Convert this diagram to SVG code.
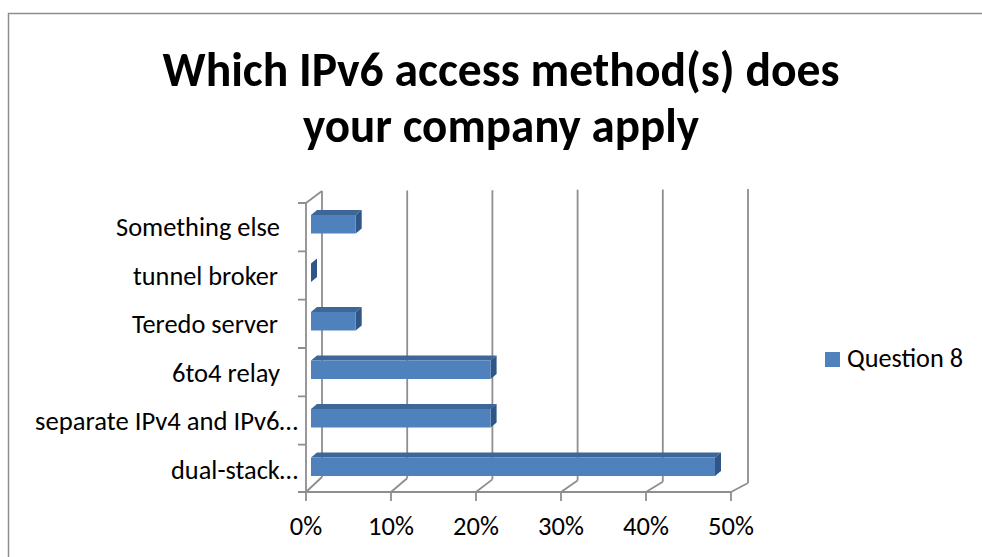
<svg xmlns="http://www.w3.org/2000/svg" width="982" height="557" viewBox="0 0 982 557">
<style>
.t{font-family:Carlito,Lato,"Liberation Sans",sans-serif;fill:#000}
.title{font-size:49px;font-weight:bold;text-anchor:middle}
.lbl{font-size:26.5px;text-anchor:end}
.ax{font-size:26.5px;text-anchor:middle}
.grid{stroke:#8E8E8E;stroke-width:1.8;fill:none}
.front{fill:#4F81BD}
.top{fill:#3D6699}
.side{fill:#2F5687}
</style>
<rect x="0" y="0" width="982" height="557" fill="#fff"/>
<rect id="frame" x="8.5" y="13.5" width="1000" height="600" fill="#fff" stroke="#8E8E8E" stroke-width="1.5"/>
<g id="title">
<text class="t title" x="501" y="86" textLength="677" lengthAdjust="spacingAndGlyphs">Which IPv6 access method(s) does</text>
<text class="t title" x="501" y="142" textLength="396" lengthAdjust="spacingAndGlyphs">your company apply</text>
</g>
<g id="axes">
<path class="grid" d="M322 191V477 M407.2 190.6V478.2 M492.4 190.2V479.4 M577.6 189.8V480.6 M662.8 189.4V481.8 M748 189V483"/>
<path class="grid" d="M306 203L322 191 M306 203V492 M306 492H731 M322 477L306 492 M407.2 478.2L391 492 M492.4 479.4L476 492 M577.6 480.6L561 492 M662.8 481.8L646 492 M748 483L731 492"/>
<path class="grid" d="M306 492V501 M391 492V501 M476 492V501 M561 492V501 M646 492V501 M731 492V501"/>
<path class="grid" d="M298 203H306 M298 251.3H306 M298 299.7H306 M298 348H306 M298 396.3H306 M298 444.7H306 M298 492H306"/>
</g>
<g id="bars">
<g id="bar-something-else">
<polygon class="top" points="311,215 355.7,215 361.7,210 317,210"/>
<polygon class="side" points="355.7,215 361.7,210 361.7,228.5 355.7,233.5"/>
<rect class="front" x="311" y="215" width="44.7" height="18.5"/>
</g>
<g id="bar-tunnel-broker">
<polygon class="side" points="311,263.5 317,258.5 317,277 311,282"/>
</g>
<g id="bar-teredo">
<polygon class="top" points="311,312 355.7,312 361.7,307 317,307"/>
<polygon class="side" points="355.7,312 361.7,307 361.7,325.5 355.7,330.5"/>
<rect class="front" x="311" y="312" width="44.7" height="18.5"/>
</g>
<g id="bar-6to4">
<polygon class="top" points="311,360.5 490.6,360.5 496.6,355.5 317,355.5"/>
<polygon class="side" points="490.6,360.5 496.6,355.5 496.6,374 490.6,379"/>
<rect class="front" x="311" y="360.5" width="179.6" height="18.5"/>
</g>
<g id="bar-separate">
<polygon class="top" points="311,409 490.6,409 496.6,404 317,404"/>
<polygon class="side" points="490.6,409 496.6,404 496.6,422.5 490.6,427.5"/>
<rect class="front" x="311" y="409" width="179.6" height="18.5"/>
</g>
<g id="bar-dual-stack">
<polygon class="top" points="311,457.5 715,457.5 721,452.5 317,452.5"/>
<polygon class="side" points="715,457.5 721,452.5 721,471 715,476"/>
<rect class="front" x="311" y="457.5" width="404" height="18.5"/>
</g>
</g>
<g id="category-labels">
<text class="t lbl" x="280" y="236" textLength="164" lengthAdjust="spacingAndGlyphs">Something else</text>
<text class="t lbl" x="278" y="285" textLength="145" lengthAdjust="spacingAndGlyphs">tunnel broker</text>
<text class="t lbl" x="278" y="333" textLength="146" lengthAdjust="spacingAndGlyphs">Teredo server</text>
<text class="t lbl" x="280" y="382" textLength="108" lengthAdjust="spacingAndGlyphs">6to4 relay</text>
<text class="t lbl" x="298" y="430" textLength="263" lengthAdjust="spacingAndGlyphs">separate IPv4 and IPv6…</text>
<text class="t lbl" x="298" y="479" textLength="127" lengthAdjust="spacingAndGlyphs">dual-stack…</text>
</g>
<g id="value-labels">
<text class="t ax" x="306" y="535">0%</text>
<text class="t ax" x="391" y="535">10%</text>
<text class="t ax" x="476" y="535">20%</text>
<text class="t ax" x="561" y="535">30%</text>
<text class="t ax" x="646" y="535">40%</text>
<text class="t ax" x="731" y="535">50%</text>
</g>
<g id="legend">
<rect x="825" y="352" width="15" height="15" fill="#4F81BD"/>
<text class="t" x="847" y="367" font-size="26.5" textLength="116" lengthAdjust="spacingAndGlyphs">Question 8</text>
</g>
</svg>
